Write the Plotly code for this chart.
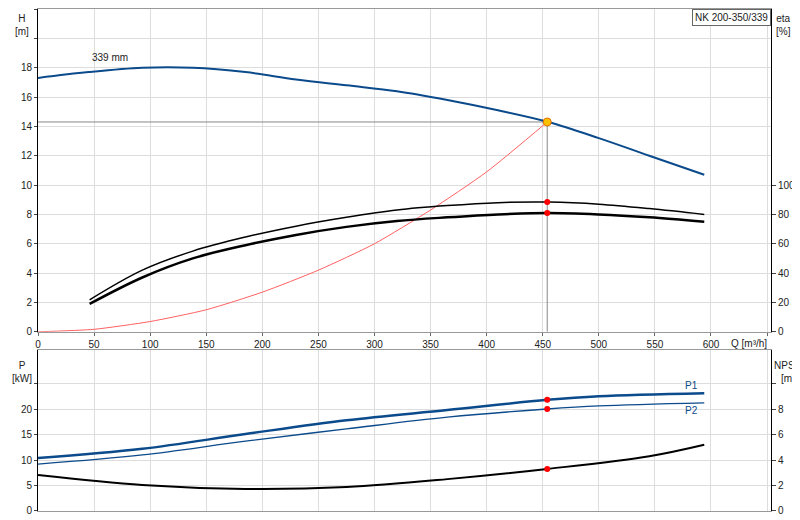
import plotly.graph_objects as go

q_h = [0, 45, 93, 138, 185, 230, 275, 320, 365, 410, 455, 500, 545, 594]
h_vals = [17.3, 17.7, 18.0, 18.0, 17.7, 17.2, 16.8, 16.4, 15.8, 15.1, 14.3, 13.2, 12.0, 10.7]

q_eta = [46, 93, 138, 185, 230, 275, 320, 365, 410, 455, 500, 545, 594]
eta1 = [21.8, 42, 55, 64.6, 72, 78, 83, 86, 88, 88.4, 87, 84, 80]
eta2 = [19, 37, 50, 59, 66, 71.5, 75.5, 78, 80, 81, 80, 78, 75]

q_sys = [0, 50, 100, 150, 200, 250, 300, 350, 400, 454]
h_sys = [0, 0.17, 0.7, 1.5, 2.7, 4.2, 6.0, 8.3, 10.9, 14.3]

q_p = [0, 93, 185, 275, 365, 454, 500, 594]
p1 = [10.4, 12.2, 15.1, 17.8, 19.8, 21.8, 22.5, 23.1]
p2 = [9.2, 11.0, 13.7, 16.1, 18.4, 20.0, 20.6, 21.2]

q_npsh = [0, 93, 185, 275, 365, 454, 545, 594]
npsh = [2.82, 2.04, 1.73, 1.88, 2.5, 3.3, 4.3, 5.2]

op_q, op_h, op_eta1, op_eta2, op_p1, op_p2, op_npsh = 454, 14.3, 88.4, 81, 21.8, 20.0, 3.3

blue = "#0b4a8b"
fig = go.Figure()
fig.add_trace(go.Scatter(x=[0, op_q, op_q], y=[op_h, op_h, 0], mode="lines",
                         line=dict(color="#888888", width=1), xaxis="x", yaxis="y"))
fig.add_trace(go.Scatter(x=q_sys, y=h_sys, mode="lines", line=dict(color="#ff6060", width=1, shape="spline", smoothing=0.6),
                         xaxis="x", yaxis="y"))
fig.add_trace(go.Scatter(x=q_h, y=h_vals, mode="lines", line=dict(color=blue, width=2, shape="spline"),
                         xaxis="x", yaxis="y"))
fig.add_trace(go.Scatter(x=q_eta, y=eta1, mode="lines", line=dict(color="black", width=1.5, shape="spline"),
                         xaxis="x", yaxis="y2"))
fig.add_trace(go.Scatter(x=q_eta, y=eta2, mode="lines", line=dict(color="black", width=2.5, shape="spline"),
                         xaxis="x", yaxis="y2"))
fig.add_trace(go.Scatter(x=[op_q, op_q], y=[op_eta1, op_eta2], mode="markers",
                         marker=dict(color="red", size=6), xaxis="x", yaxis="y2"))
fig.add_trace(go.Scatter(x=[op_q], y=[op_h], mode="markers",
                         marker=dict(color="#ffc000", size=8, line=dict(color="#e07000", width=1)), xaxis="x", yaxis="y"))
fig.add_trace(go.Scatter(x=q_p, y=p1, mode="lines", line=dict(color=blue, width=2.5, shape="spline"),
                         xaxis="x2", yaxis="y3"))
fig.add_trace(go.Scatter(x=q_p, y=p2, mode="lines", line=dict(color=blue, width=1.3, shape="spline"),
                         xaxis="x2", yaxis="y3"))
fig.add_trace(go.Scatter(x=q_npsh, y=npsh, mode="lines", line=dict(color="black", width=2, shape="spline"),
                         xaxis="x2", yaxis="y4"))
fig.add_trace(go.Scatter(x=[op_q, op_q], y=[op_p1, op_p2], mode="markers",
                         marker=dict(color="red", size=6), xaxis="x2", yaxis="y3"))
fig.add_trace(go.Scatter(x=[op_q], y=[op_npsh], mode="markers",
                         marker=dict(color="red", size=6), xaxis="x2", yaxis="y4"))

grid = "#dddddd"
tf = dict(family="Arial, Liberation Sans", size=10, color="#222")
top_dom = [0.357, 1.0]
bot_dom = [0.0, 0.321]
xcommon = dict(range=[0, 653.5], tickvals=list(range(0, 651, 50)), gridcolor=grid, showline=True,
               linecolor="#999", mirror=True, zeroline=False, tickfont=tf, automargin=False)
fig.update_layout(
    width=800, height=520, margin=dict(l=30, r=37, t=1, b=17),
    plot_bgcolor="white", paper_bgcolor="white", showlegend=False,
    xaxis=dict(**xcommon, anchor="y", ticktext=[str(v) for v in range(0, 601, 50)] + [""], ticks="outside",
               ticklen=3, tickcolor="#666"),
    xaxis2=dict(**xcommon, anchor="y3", showticklabels=False),
    yaxis=dict(domain=top_dom, range=[0, 22], tickvals=list(range(0, 23, 2)),
               ticktext=[str(v) for v in range(0, 19, 2)] + ["", ""], gridcolor=grid, zeroline=False,
               showline=True, linecolor="black", tickfont=tf, ticks="outside", ticklen=3, automargin=False),
    yaxis2=dict(domain=top_dom, range=[0, 220], overlaying="y", side="right", anchor="x",
                tickvals=[0, 20, 40, 60, 80, 100], showgrid=False, zeroline=False,
                showline=True, linecolor="black", tickfont=tf, ticks="outside", ticklen=4, automargin=False),
    yaxis3=dict(domain=bot_dom, range=[0, 31.6], tickvals=[0, 5, 10, 15, 20, 25],
                ticktext=["0", "5", "10", "15", "20", ""], gridcolor=grid, zeroline=False,
                showline=True, linecolor="black", tickfont=tf, anchor="x2", ticks="outside", ticklen=3,
                automargin=False),
    yaxis4=dict(domain=bot_dom, range=[0, 12.64], overlaying="y3", side="right", anchor="x2",
                tickvals=[0, 2, 4, 6, 8, 10], ticktext=["0", "2", "4", "6", "8", ""], showgrid=False,
                zeroline=False, showline=True, linecolor="black", tickfont=tf, ticks="outside", ticklen=4,
                automargin=False),
)
af = dict(family="Arial, Liberation Sans", size=10, color="#222")
ann = [
    dict(x=14, y=2, text="H<br>[m]", xanchor="center", yanchor="top"),
    dict(x=775, y=2, text="eta<br>[%]", xanchor="center", yanchor="top"),
    dict(x=14, y=349, text="P<br>[kW]", xanchor="center", yanchor="top"),
    dict(x=780, y=349, text="NPSH<br>[m]", xanchor="center", yanchor="top"),
    dict(x=721, y=327, text="Q [m³/h]", xanchor="left", yanchor="top"),
]
for a in ann:
    fig.add_annotation(xref="paper", yref="paper", x=(a["x"] - 30) / 733, y=(519 - a["y"] - 17) / 502,
                       text=a["text"], showarrow=False, xanchor=a["xanchor"], yanchor=a["yanchor"],
                       font=af, align="center")
fig.add_annotation(x=46, y=18.2, xref="x", yref="y", text="339 mm", showarrow=False, xanchor="left",
                   yanchor="bottom", font=af)
fig.add_annotation(x=583, y=23.1, xref="x2", yref="y3", text="P1", showarrow=False, yanchor="bottom",
                   font=dict(family="Arial", size=10, color=blue))
fig.add_annotation(x=583, y=21.2, xref="x2", yref="y3", text="P2", showarrow=False, yanchor="top",
                   font=dict(family="Arial", size=10, color=blue))
fig.add_annotation(x=1, y=1, xref="paper", yref="paper", text="NK 200-350/339", showarrow=False,
                   xanchor="right", yanchor="top", font=af, bgcolor="white", bordercolor="#666",
                   borderwidth=1, borderpad=2)
fig.write_html("out.html")
